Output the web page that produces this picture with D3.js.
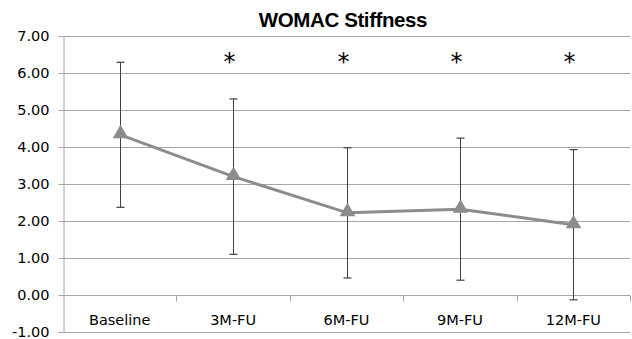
<!DOCTYPE html>
<html>
<head>
<meta charset="utf-8">
<style>
  body { margin: 0; background: #fff; }
  svg { display: block; }
</style>
</head>
<body>
<svg id="svg" width="632" height="339"></svg>
<script src="https://cdn.jsdelivr.net/npm/d3@7"></script>
<script>
  const categories = ["Baseline", "3M-FU", "6M-FU", "9M-FU", "12M-FU"]
  const means = [4.33, 3.2, 2.22, 2.32, 1.9]
  const errors = [1.96, 2.1, 1.76, 1.92, 2.03]
  const significant = [false, true, true, true, true]
  const yTicks = [-1, 0, 1, 2, 3, 4, 5, 6, 7]

  const margin = { top: 36, right: 2, bottom: 7, left: 63 }
  const width = 632 - margin.left - margin.right
  const height = 339 - margin.top - margin.bottom

  const svg = d3.select("#svg")

  const xScale = d3.scaleBand()
    .domain(categories)
    .range([margin.left, margin.left + width])

  const yScale = d3.scaleLinear()
    .domain([-1, 7])
    .range([margin.top + height, margin.top])

  // horizontal gridlines
  svg.append("g")
    .selectAll("line")
    .data(yTicks)
    .enter().append("line")
    .attr("x1", margin.left)
    .attr("x2", margin.left + width)
    .attr("y1", d => Math.round(yScale(d)) + 0.5)
    .attr("y2", d => Math.round(yScale(d)) + 0.5)
    .attr("stroke", "#a6a6a6")
    .attr("stroke-width", 1)

  // value axis
  const yAxis = svg.append("g")
    .attr("transform", `translate(${margin.left + 0.5}, 0)`)
    .call(d3.axisLeft(yScale).tickValues(yTicks).tickFormat(d => d.toFixed(2)).tickSize(5).tickPadding(9))
  yAxis.select(".domain").attr("stroke", "#a6a6a6")
  yAxis.selectAll(".tick line").attr("stroke", "#a6a6a6")
  yAxis.selectAll("text")
    .style("font-family", "DejaVu Sans, sans-serif")
    .style("font-size", "14.5px")
    .attr("fill", "#000")

  // category axis crossing at zero
  const xAxis = svg.append("g")
    .attr("transform", `translate(0, ${Math.round(yScale(0)) + 0.5})`)
    .call(d3.axisBottom(xScale).tickSize(0).tickPadding(19))
  xAxis.select(".domain").remove()
  xAxis.selectAll("text")
    .style("font-family", "DejaVu Sans, sans-serif")
    .style("font-size", "14.5px")
    .attr("fill", "#000")
  xAxis.selectAll(".sep")
    .data(categories.slice(1).concat(["end"]))
    .enter().append("line")
    .attr("x1", (d, i) => Math.round(margin.left + xScale.step() * (i + 1)) + 0.5)
    .attr("x2", (d, i) => Math.round(margin.left + xScale.step() * (i + 1)) + 0.5)
    .attr("y1", 0)
    .attr("y2", 6)
    .attr("stroke", "#a6a6a6")

  const cx = d => Math.round(xScale(d) + xScale.bandwidth() / 2) + 0.5

  // error bars
  const eb = svg.append("g")
  categories.forEach((c, i) => {
    const top = yScale(means[i] + errors[i])
    const bot = yScale(means[i] - errors[i])
    eb.append("line")
      .attr("x1", cx(c)).attr("x2", cx(c))
      .attr("y1", top).attr("y2", bot)
      .attr("stroke", "#404040").attr("stroke-width", 1)
    ;[top, bot].forEach(y => {
      eb.append("line")
        .attr("x1", cx(c) - 4).attr("x2", cx(c) + 4)
        .attr("y1", y).attr("y2", y)
        .attr("stroke", "#404040").attr("stroke-width", 1.2)
    })
  })

  // mean line
  const line = d3.line()
    .x((d, i) => cx(categories[i]))
    .y(d => yScale(d))
  svg.append("path")
    .datum(means)
    .attr("d", line)
    .attr("fill", "none")
    .attr("stroke", "#8c8c8c")
    .attr("stroke-width", 3)

  // triangle markers
  svg.append("g")
    .selectAll("path")
    .data(means)
    .enter().append("path")
    .attr("d", d3.symbol().type(d3.symbolTriangle).size(105))
    .attr("transform", (d, i) => `translate(${cx(categories[i])}, ${yScale(d) - 1})`)
    .attr("fill", "#8c8c8c")

  // significance stars
  svg.append("g")
    .selectAll("text")
    .data(categories.filter((c, i) => significant[i]))
    .enter().append("text")
    .attr("x", d => cx(d) - 4)
    .attr("y", 70)
    .attr("text-anchor", "middle")
    .style("font-family", "DejaVu Sans, sans-serif")
    .style("font-size", "24px")
    .text("*")

  // title
  svg.append("text")
    .attr("x", 343)
    .attr("y", 27)
    .attr("text-anchor", "middle")
    .style("font-family", "Liberation Sans, Arial, sans-serif")
    .style("font-weight", "bold")
    .style("font-size", "20.5px")
    .style("letter-spacing", "-0.4px")
    .text("WOMAC Stiffness")
</script>
</body>
</html>
